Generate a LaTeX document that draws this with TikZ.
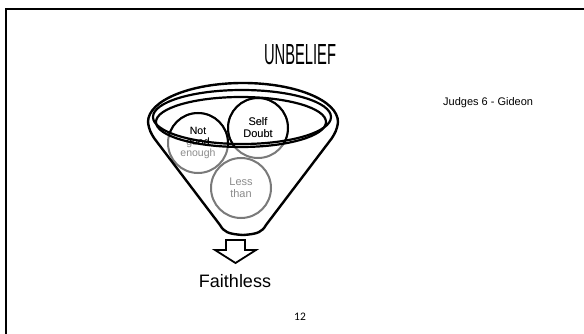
\documentclass[tikz,border=0pt]{standalone}
\usepackage{fontspec}
\usepackage{graphicx}
\setmainfont{Liberation Sans}
\newfontfamily\numfont{Carlito}
\definecolor{circgray}{HTML}{7A7A7A}
\definecolor{textgray}{HTML}{8C8C8C}
\tikzset{
  bubble/.style={circle, draw=circgray, line width=2pt, minimum size=60pt, inner sep=0pt, text=textgray, align=center},
  bubbleblack/.style={circle, draw=black, line width=2pt, minimum size=60pt, inner sep=0pt, text=black, align=center},
  funnel/.style={draw=black, line width=2.4pt, line join=round},
  rim/.style={draw=black, line width=2.2pt},
  small/.style={font=\fontsize{10.5}{10.8}\selectfont},
  med/.style={font=\fontsize{11}{12}\selectfont}
}
\begin{document}
\begin{tikzpicture}[x=1pt,y=-1pt]
\useasboundingbox (0,0) rectangle (584,334);
\fill[white] (0,0) rectangle (584,334);
% slide frame
\draw[line width=2pt] (6,340) -- (6,9) -- (590,9);
% title
\node[anchor=south, inner sep=0pt] (title) at (300,65) {\resizebox{72pt}{20pt}{UNBELIEF}};
% gray bubbles
\node[bubble, small] (ng) at (198,143) {Not\\good\\enough};
\node[bubble, med] (sd) at (258,128) {Self\\Doubt};
\node[bubble, font=\fontsize{11}{11.5}\selectfont] (lt) at (241,188) {Less\\than};
% black parts inside the rim
\begin{scope}
  \clip (241,122) ellipse [x radius=85pt, y radius=25pt];
  \node[bubbleblack, small] (ngB) at (198,143) {Not\\good\\enough};
  \node[bubbleblack, med] (sdB) at (258,128) {Self\\Doubt};
\end{scope}
% funnel body
\draw[funnel] (148,122) arc[start angle=180, end angle=0, x radius=95pt, y radius=39pt]
  .. controls (337,130) and (335,133) .. (332,138) -- (266,225)
  .. controls (262,232) and (258,234) .. (243,235)
  .. controls (228,234) and (224,232) .. (220,225) -- (154,138)
  .. controls (151,133) and (149,130) .. (148,122) -- cycle;
% rims
\draw[rim] (242,117) ellipse [x radius=89pt, y radius=27pt];
\draw[rim] (241,122) ellipse [x radius=85pt, y radius=25pt];
% block arrow
\draw[line width=1.8pt, line join=miter, fill=white] (226,240) -- (245,240) -- (245,250) -- (256,250) -- (235.5,263) -- (215,250) -- (226,250) -- cycle;
% labels
\node[anchor=base, inner sep=0pt, font=\fontsize{18}{20}\selectfont] (faith) at (235,287) {Faithless};
\node[anchor=base west, inner sep=0pt, font=\fontsize{11}{13}\selectfont] (judges) at (443,106) {Judges 6 - Gideon};
\node[anchor=base, inner sep=0pt, font=\numfont\fontsize{11.5}{13}\selectfont] (page) at (300,320) {12};
\end{tikzpicture}
\end{document}
